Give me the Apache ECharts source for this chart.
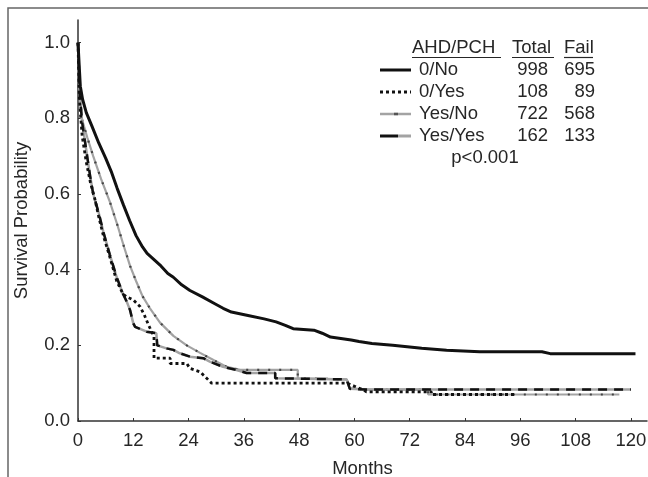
<!DOCTYPE html>
<html><head><meta charset="utf-8">
<script src="https://cdn.jsdelivr.net/npm/echarts@6/dist/echarts.min.js"></script>
<style>html,body{margin:0;padding:0;background:#fff}#c{width:648px;height:477px}</style>
</head><body><div id="c"></div>
<script>
// ---- data ----
const xTicks = [0, 12, 24, 36, 48, 60, 72, 84, 96, 108, 120];
const yTicks = [0, 0.2, 0.4, 0.6, 0.8, 1.0];
const legendHeader = ['AHD/PCH', 'Total', 'Fail'];
const groups = ['0/No', '0/Yes', 'Yes/No', 'Yes/Yes'];
const totals = [998, 108, 722, 162];
const fails = [695, 89, 568, 133];
const pText = 'p<0.001';
const xName = 'Months';
const yName = 'Survival Probability';

const survNoNo = [[0,1.0],[0.3,0.93],[0.5,0.885],[1,0.85],[1.8,0.815],[3,0.78],[4.5,0.735],[6,0.695],[7.2,0.66],[8.5,0.615],[9.9,0.57],[11.2,0.53],[12.6,0.49],[14,0.46],[15,0.443],[16.2,0.43],[18,0.41],[19.5,0.39],[20.7,0.38],[22.5,0.36],[24.3,0.345],[27,0.328],[29.7,0.31],[31.5,0.298],[33.3,0.288],[36.9,0.279],[40.4,0.27],[43,0.262],[45,0.253],[46.7,0.244],[51.2,0.24],[53,0.232],[54.8,0.222],[59.3,0.214],[61,0.21],[63.8,0.205],[68.3,0.2],[74.6,0.192],[80,0.187],[87.2,0.183],[100.7,0.183],[102.5,0.178],[121,0.178]];

const survNoYes = [[0,1.0],[0.3,0.85],[0.9,0.754],[1.8,0.684],[2.7,0.63],[3.6,0.59],[4.5,0.54],[5.5,0.49],[7,0.43],[8.4,0.37],[9.8,0.335],[10.6,0.328],[12,0.32],[13.5,0.302],[14.4,0.28],[15.3,0.254],[16.5,0.223],[16.5,0.166],[20,0.166],[20,0.152],[23.6,0.152],[24.3,0.139],[26.5,0.13],[27.6,0.117],[29,0.1],[58.4,0.1],[60,0.092],[62,0.082],[62.6,0.077],[76.7,0.077],[76.7,0.07],[95,0.07]];

const survYesNo = [[0,1.0],[0.4,0.88],[0.8,0.8],[2,0.75],[3.3,0.7],[5,0.64],[6.9,0.58],[8.5,0.52],[10,0.46],[11.3,0.41],[12.6,0.37],[14,0.33],[15.5,0.3],[17.8,0.26],[20.7,0.225],[23.6,0.2],[26.5,0.18],[29.4,0.161],[32.3,0.143],[35.2,0.135],[47.7,0.135],[47.7,0.113],[58.3,0.11],[59,0.087],[62,0.083],[76,0.083],[76,0.07],[117.5,0.07]];

const survYesYes = [[0,1.0],[0.4,0.86],[0.9,0.79],[1.5,0.74],[1.9,0.707],[2.6,0.65],[3.3,0.6],[4.5,0.55],[5.5,0.5],[6.9,0.44],[8.4,0.38],[9.8,0.335],[10.6,0.315],[11.3,0.293],[12,0.258],[12.4,0.249],[14.9,0.236],[17,0.232],[17.2,0.2],[19.2,0.192],[20.7,0.188],[22.1,0.179],[24.3,0.17],[27.2,0.166],[28.6,0.157],[31.5,0.143],[34.4,0.135],[36.6,0.127],[42.8,0.127],[42.8,0.113],[58.3,0.11],[59,0.085],[62.6,0.083],[120,0.083]];

// ---- chart ----
const FONT = '"Liberation Sans", Arial, sans-serif';
const FS = 18.5;
const TXT = '#262626';
const GRAY = '#a3a3a3';
const chart = echarts.init(document.getElementById('c'), null, {renderer: 'canvas'});

function lineSeries(name, data, style, z) {
  return {name, type: 'line', data, showSymbol: false, symbol: 'none', silent: true,
    lineStyle: style, z: z, animation: false};
}

const legX1 = 380, legX2 = 411;
const rowsY = [70, 92, 114, 136];
const graphics = [
  {type: 'rect', shape: {x: 8, y: 8, width: 700, height: 520}, style: {fill: 'none', stroke: '#666', lineWidth: 1.5}, z: 0},
  {type: 'text', x: 412, y: 48, style: {text: legendHeader[0], font: FS + 'px ' + FONT, fill: TXT, verticalAlign: 'middle'}},
  {type: 'text', x: 512, y: 48, style: {text: legendHeader[1], font: FS + 'px ' + FONT, fill: TXT, verticalAlign: 'middle'}},
  {type: 'text', x: 564, y: 48, style: {text: legendHeader[2], font: FS + 'px ' + FONT, fill: TXT, verticalAlign: 'middle'}},
  {type: 'line', shape: {x1: 412, y1: 57.5, x2: 501, y2: 57.5}, style: {stroke: TXT, lineWidth: 1.2}},
  {type: 'line', shape: {x1: 512, y1: 57.5, x2: 554, y2: 57.5}, style: {stroke: TXT, lineWidth: 1.2}},
  {type: 'line', shape: {x1: 564, y1: 57.5, x2: 593, y2: 57.5}, style: {stroke: TXT, lineWidth: 1.2}},
  {type: 'text', x: 485, y: 158, style: {text: pText, font: FS + 'px ' + FONT, fill: TXT, align: 'center', verticalAlign: 'middle'}},
  {type: 'line', shape: {x1: legX1, y1: rowsY[0], x2: legX2, y2: rowsY[0]}, style: {stroke: '#111', lineWidth: 3}},
  {type: 'line', shape: {x1: legX1, y1: rowsY[1], x2: legX2, y2: rowsY[1]}, style: {stroke: '#111', lineWidth: 3, lineDash: [3, 3]}},
  {type: 'line', shape: {x1: legX1, y1: rowsY[2], x2: legX2, y2: rowsY[2]}, style: {stroke: GRAY, lineWidth: 2.5}},
  {type: 'line', shape: {x1: legX1 + 14, y1: rowsY[2], x2: legX1 + 18, y2: rowsY[2]}, style: {stroke: '#555', lineWidth: 2.5}},
  {type: 'line', shape: {x1: legX1, y1: rowsY[3], x2: legX1 + 18, y2: rowsY[3]}, style: {stroke: '#111', lineWidth: 3}},
  {type: 'line', shape: {x1: legX1 + 18, y1: rowsY[3], x2: legX2, y2: rowsY[3]}, style: {stroke: GRAY, lineWidth: 3}}
];
groups.forEach((g, i) => {
  graphics.push({type: 'text', x: 419, y: rowsY[i], style: {text: g, font: FS + 'px ' + FONT, fill: TXT, verticalAlign: 'middle'}});
  graphics.push({type: 'text', x: 548, y: rowsY[i], style: {text: String(totals[i]), font: FS + 'px ' + FONT, fill: TXT, align: 'right', verticalAlign: 'middle'}});
  graphics.push({type: 'text', x: 595, y: rowsY[i], style: {text: String(fails[i]), font: FS + 'px ' + FONT, fill: TXT, align: 'right', verticalAlign: 'middle'}});
});

const option = {
  backgroundColor: '#fff',
  animation: false,
  grid: {left: 78, right: 1, top: 20, bottom: 56, containLabel: false, outerBoundsMode: 'none'},
  xAxis: {
    type: 'value', min: 0, max: 123.5,
    name: xName, nameLocation: 'middle', nameGap: 38,
    nameTextStyle: {fontFamily: FONT, fontSize: FS, color: TXT},
    axisLine: {show: true, lineStyle: {color: '#333', width: 1.5}},
    axisTick: {show: true, inside: true, length: 3, customValues: xTicks, lineStyle: {color: '#333'}},
    axisLabel: {customValues: xTicks, margin: 10, fontFamily: FONT, fontSize: FS, color: TXT},
    splitLine: {show: false}
  },
  yAxis: {
    type: 'value', min: 0, max: 1.06,
    name: yName, nameLocation: 'middle', nameGap: 47, nameRotate: 90,
    nameTextStyle: {fontFamily: FONT, fontSize: FS, color: TXT},
    axisLine: {show: true, lineStyle: {color: '#333', width: 1.5}},
    axisTick: {show: true, inside: true, length: 3, customValues: yTicks, lineStyle: {color: '#333'}},
    axisLabel: {customValues: yTicks, margin: 8, fontFamily: FONT, fontSize: FS, color: TXT,
      formatter: v => v.toFixed(1)},
    splitLine: {show: false}
  },
  series: [
    lineSeries('Yes/No', survYesNo, {color: GRAY, width: 2.2}, 2),
    lineSeries('Yes/No dots', survYesNo, {color: '#444', width: 2.2, type: [2, 9]}, 3),
    lineSeries('Yes/Yes', survYesYes, {color: GRAY, width: 2.5}, 4),
    lineSeries('Yes/Yes dash', survYesYes, {color: '#111', width: 2.5, type: [9, 7]}, 5),
    lineSeries('0/Yes', survNoYes, {color: '#111', width: 2.8, type: [3, 3]}, 6),
    lineSeries('0/No', survNoNo, {color: '#111', width: 3}, 7)
  ],
  graphic: graphics
};
chart.setOption(option);
</script></body></html>
